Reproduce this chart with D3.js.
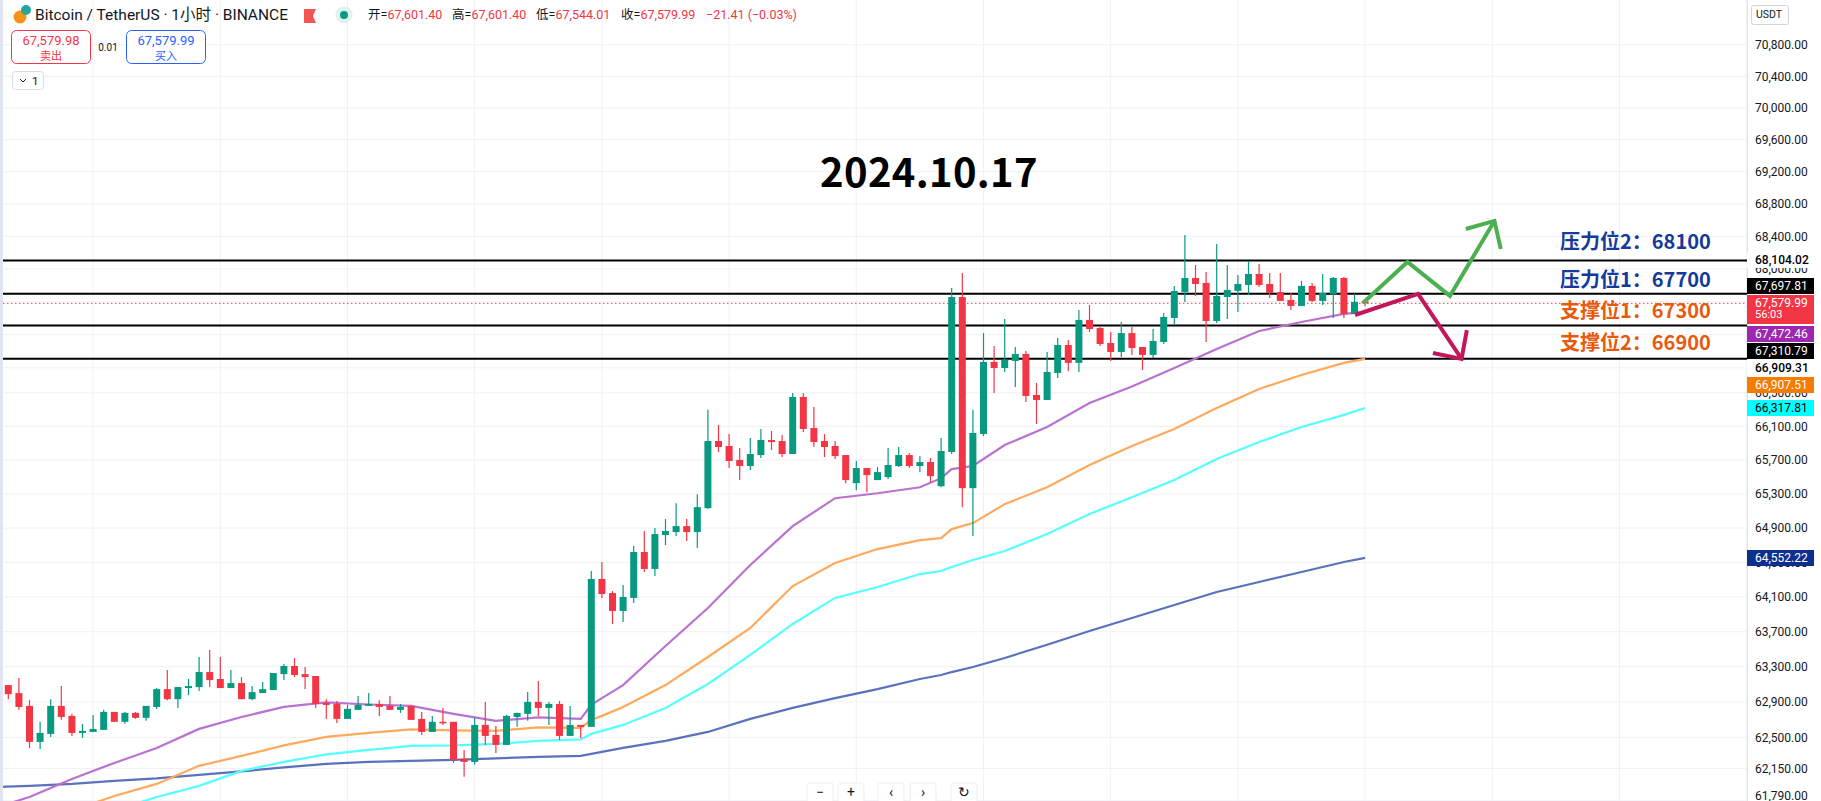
<!DOCTYPE html>
<html>
<head>
<meta charset="utf-8">
<title>BTCUSDT</title>
<script src="https://d3js.org/d3.v7.min.js"></script>
<style>
  html, body { margin: 0; padding: 0; background: #fff; overflow: hidden; }
  svg { display: block; }
  text { font-family: Roboto, 'Noto Sans CJK SC', sans-serif; }
  .cjk { font-family: 'Noto Sans CJK SC', sans-serif; }
  .axis path, .axis line { display: none; }
  .axis text { font-size: 12px; fill: #131722; }
</style>
</head>
<body>
<svg id="chart" width="1821" height="801"></svg>
<script>
// one hour candles, oldest first
var barOpen = [63091,63000,62855,62449,62539,62855,62742,62550,62561,62584,62787,62675,62776,62720,62843,63045,62931,63057,63068,63239,63160,63057,63114,62931,63000,63034,63216,63308,63216,63194,62888,62877,62708,62810,62855,62877,62855,62810,62855,62708,62561,62675,62675,62258,62224,62640,62527,62415,62730,62765,62900,62832,62877,62516,62640,62618,64308,64145,63939,64089,64621,64424,64818,64853,64923,64853,65133,65925,65866,65700,65629,65759,65937,65925,65771,66450,66080,65925,65866,65759,65427,65605,65463,65498,65629,65759,65629,65676,65391,65795,67657,65368,66009,66871,66798,66883,66967,66474,66414,66738,67075,66859,67378,67280,67099,66991,67219,67051,66955,67111,67402,67718,67889,67828,67365,67657,67731,67804,67938,67816,67718,67621,67548,67792,67609,67694,67889,67451,67601.4];
var barHigh = [63091,63171,62920,62675,62931,63080,62765,62652,62753,62810,62787,62787,62787,62855,63057,63262,63068,63160,63411,63491,63411,63262,63182,63080,63125,63228,63331,63400,63297,63194,62931,62910,62866,62966,63000,62920,62966,62877,62855,62787,62742,62832,62675,62359,62720,62900,62629,62753,62776,63011,63137,62900,62910,62855,62640,64400,64505,64168,64238,64691,64865,64900,65005,65190,65005,65296,66296,66116,66009,65843,65961,66068,66044,65997,66498,66498,66331,66009,65925,65759,65688,65605,65617,65843,65854,65783,65747,65724,65961,67767,67950,66296,67219,67063,67390,67051,67003,66618,66991,67159,67135,67499,67560,67292,67232,67353,67292,67051,67268,67463,67792,68417,68048,67962,68307,68048,67925,68097,68060,67950,67950,67706,67853,67828,67938,67901,67901,67694,67601.4];
var barLow = [62931,62810,62381,62370,62505,62697,62516,62494,62561,62584,62675,62652,62708,62686,62821,62920,62832,62977,63023,63068,63057,63057,62931,62920,63000,63034,63148,63182,63045,62832,62708,62663,62708,62810,62855,62742,62810,62776,62697,62527,62561,62640,62213,62057,62191,62415,62325,62415,62618,62686,62742,62640,62471,62516,62494,62618,64089,63789,63812,64031,64389,64342,64702,64806,64748,64667,65122,65795,65605,65463,65581,65724,65819,65735,65771,66032,65854,65735,65712,65427,65344,65320,65463,65475,65617,65605,65557,65439,65379,65771,65145,64806,65985,66498,66750,66570,66390,66128,66414,66678,66762,66750,67232,67063,66883,66931,66955,66774,66919,67087,67317,67597,67670,67111,67341,67390,67475,67682,67780,67645,67609,67499,67548,67597,67560,67402,67402,67451,67544.01];
var barClose = [62988,62843,62449,62550,62855,62730,62550,62573,62595,62787,62675,62776,62720,62855,63045,62931,63068,63080,63239,63148,63057,63114,62931,63011,63045,63228,63308,63205,63182,62877,62866,62708,62821,62866,62877,62843,62810,62843,62697,62561,62675,62663,62247,62224,62640,62516,62415,62742,62776,62900,62832,62877,62516,62640,62618,64308,64134,63939,64100,64621,64424,64830,64865,64923,64853,65145,65925,65854,65688,65629,65771,65937,65913,65771,66450,66068,65913,65854,65747,65463,65605,65522,65557,65641,65759,65629,65676,65510,65807,67657,65368,66021,66871,66798,66895,66967,66462,66414,66750,67075,66859,67378,67268,67087,66991,67219,67039,66955,67123,67414,67730,67889,67816,67365,67670,67743,67816,67938,67804,67706,67609,67548,67792,67609,67706,67889,67451,67597,67579.99];

// moving averages, read at these bar numbers
var maBars = [-1,2,6,10,14,18,22,26,30,34,38,42,46,50,54,55,56,58,62,66,70,74,78,82,86,88,89,91,94,98,102,106,110,114,118,122,126,128];
var maPurple = [61720,61833,62034,62213,62381,62595,62730,62843,62895,62871,62855,62765,62686,62725,62708,62866,62943,63091,63537,63973,64470,64923,65250,65308,65379,65486,65593,65629,65878,66092,66378,66576,66798,67027,67244,67353,67451,67472];
var maOrange = [null,null,61680,61844,61978,62180,62292,62409,62505,62550,62590,62578,62573,62612,62606,62697,62742,62843,63091,63411,63743,64226,64493,64655,64760,64783,64888,64958,65180,65379,65641,65866,66068,66319,66546,66714,66859,66907];
var maCyan = [null,null,null,61680,61833,61956,62124,62224,62309,62359,62404,62409,62426,62460,62477,62539,62573,62640,62832,63103,63434,63789,64089,64215,64365,64400,64447,64528,64632,64830,65064,65262,65463,65712,65913,66092,66236,66318];
var maBlue = [61945,61956,61978,62012,62040,62079,62118,62163,62202,62224,62236,62247,62264,62280,62292,62314,62337,62381,62460,62561,62708,62832,62943,63045,63160,63205,63239,63297,63400,63550,63709,63858,64008,64157,64273,64389,64505,64552];

var priceTicks = [70800,70400,70000,69600,69200,68800,68400,68000,67600,67200,66800,66500,66100,65700,65300,64900,64500,64100,63700,63300,62900,62500,62150,61790];
var gridBars = [8,20,32,44,56,68,80,92,104,116,128,140,152,164];
var levels = [68104.02,67697.81,67310.79,66909.31];
var lastPrice = 67579.99;

// hand drawn scenario arrows
var upBars = [127.8,132,136,140.2];
var upPrices = [67584,68085,67670,68590];
var upHeadBars = [137.5,140.2,140.8];
var upHeadPrices = [68490,68590,68245];
var downBars = [127.05,133,137.1];
var downPrices = [67438,67694,66907];
var downHeadBars = [134.4,137.1,137.6];
var downHeadPrices = [66979,66907,67256];

var noteText = ['压力位2：68100','压力位1：67700','支撑位1：67300','支撑位2：66900'];
var noteColor = ['#153a9b','#153a9b','#e8590c','#e8590c'];
var noteY = [242,280,311,343];

var tagText = ['68,104.02','67,697.81','67,579.99','67,472.46','67,310.79','66,909.31','66,907.51','66,317.81','64,552.22'];
var tagY = [260,286,303,334,351,368,385,408,558];
var tagFill = ['#fff','#000','#f23645','#9c27b0','#000','#fff','#f57c00','#00ffff','#0d2f8f'];
var tagInk = ['#000','#fff','#fff','#fff','#fff','#000','#fff','#000','#fff'];

var chartRight = 1747;

var svg = d3.select('#chart');
var x = d3.scaleLinear().domain([0, 128]).range([8.3, 1365.1]);
var y = d3.scaleLog().domain([70800, 61790]).range([44.8, 800.8]);

var plot = svg.append('g');

// grid
plot.selectAll('.vgrid').data(gridBars).enter().append('line')
  .attr('x1', function (d) { return x(d); })
  .attr('x2', function (d) { return x(d); })
  .attr('y1', 0).attr('y2', 801)
  .attr('stroke', '#f0f1f4').attr('stroke-width', 1);

plot.selectAll('.hgrid').data(priceTicks).enter().append('line')
  .attr('x1', 3).attr('x2', chartRight)
  .attr('y1', function (d) { return y(d); })
  .attr('y2', function (d) { return y(d); })
  .attr('stroke', '#f0f1f4').attr('stroke-width', 1);

// left edge strip
svg.append('rect').attr('width', 3).attr('height', 801).attr('fill', '#e0e3f0');

// support and resistance
plot.selectAll('.level').data(levels).enter().append('line')
  .attr('x1', 3).attr('x2', chartRight)
  .attr('y1', function (d) { return y(d); })
  .attr('y2', function (d) { return y(d); })
  .attr('stroke', '#000').attr('stroke-width', 2);

plot.append('line')
  .attr('x1', 3).attr('x2', chartRight)
  .attr('y1', y(lastPrice)).attr('y2', y(lastPrice))
  .attr('stroke', '#f23645').attr('stroke-width', 1)
  .attr('stroke-dasharray', '1.5,2.5');

// moving averages
var maLine = d3.line()
  .defined(function (d) { return d.value !== null; })
  .x(function (d) { return x(d.bar); })
  .y(function (d) { return y(d.value); });

var drawMa = function (values, color) {
  var points = values.map(function (v, i) {
    return {bar: maBars[i], value: v};
  });
  plot.append('path')
    .attr('d', maLine(points))
    .attr('fill', 'none')
    .attr('stroke', color)
    .attr('stroke-width', 2.2);
};

drawMa(maBlue, '#5a72bd');
drawMa(maCyan, '#55ffff');
drawMa(maOrange, '#ffa95c');
drawMa(maPurple, '#ba72d0');

// candles
var bars = barOpen.map(function (o, i) {
  return {i: i, o: o, h: barHigh[i], l: barLow[i], c: barClose[i]};
});
var barColor = function (d) {
  return d.c >= d.o ? '#089981' : '#f23645';
};

var candle = plot.selectAll('.candle').data(bars).enter().append('g');
candle.append('line')
  .attr('x1', function (d) { return x(d.i); })
  .attr('x2', function (d) { return x(d.i); })
  .attr('y1', function (d) { return y(d.h); })
  .attr('y2', function (d) { return y(d.l); })
  .attr('stroke', barColor).attr('stroke-width', 1.2);
candle.append('rect')
  .attr('x', function (d) { return x(d.i) - 3.5; })
  .attr('width', 7)
  .attr('y', function (d) { return y(Math.max(d.o, d.c)); })
  .attr('height', function (d) { return Math.max(1.5, Math.abs(y(d.o) - y(d.c))); })
  .attr('fill', barColor);

// arrows
var arrowLine = function (barList, priceList, color) {
  var path = d3.line()
    .x(function (d) { return x(d); })
    .y(function (d, i) { return y(priceList[i]); });
  plot.append('path')
    .attr('d', path(barList))
    .attr('fill', 'none')
    .attr('stroke', color)
    .attr('stroke-width', 4)
    .attr('stroke-linejoin', 'miter');
};
arrowLine(upBars, upPrices, '#4caf50');
arrowLine(upHeadBars, upHeadPrices, '#4caf50');
arrowLine(downBars, downPrices, '#c2185b');
arrowLine(downHeadBars, downHeadPrices, '#c2185b');

// title
svg.append('text')
  .attr('class', 'cjk')
  .attr('x', 929).attr('y', 187)
  .attr('text-anchor', 'middle')
  .attr('font-size', 40).attr('font-weight', 700)
  .attr('letter-spacing', 0.3)
  .attr('fill', '#000')
  .text('2024.10.17');

// notes by the levels
noteText.forEach(function (t, i) {
  svg.append('text')
    .attr('class', 'cjk')
    .attr('x', 1560).attr('y', noteY[i] + 7)
    .attr('font-size', 20).attr('font-weight', 700)
    .attr('fill', noteColor[i])
    .text(t);
});

// price axis
svg.append('rect').attr('x', chartRight).attr('width', 74).attr('height', 801).attr('fill', '#fff');
svg.append('line')
  .attr('x1', chartRight + 0.5).attr('x2', chartRight + 0.5)
  .attr('y1', 0).attr('y2', 801)
  .attr('stroke', '#e0e3eb');

svg.append('g')
  .attr('class', 'axis')
  .attr('transform', 'translate(' + (chartRight + 8) + ',0)')
  .call(d3.axisRight(y).tickValues(priceTicks).tickSize(0).tickPadding(0).tickFormat(d3.format(',.2f')))
  .selectAll('text')
  .filter(function (d) { return d === 61790; })
  .attr('y', -5);

tagText.forEach(function (t, i) {
  var h = t === '67,579.99' ? 29 : 16;
  svg.append('rect')
    .attr('x', chartRight).attr('y', tagY[i] - 8)
    .attr('width', 67).attr('height', h)
    .attr('fill', tagFill[i]);
  svg.append('text')
    .attr('x', chartRight + 8).attr('y', tagY[i] + 4)
    .attr('font-size', 12)
    .attr('font-weight', tagFill[i] === '#fff' ? 500 : 400)
    .attr('fill', tagInk[i])
    .text(t);
});
svg.append('text')
  .attr('x', chartRight + 8).attr('y', 318)
  .attr('font-size', 11).attr('fill', '#fff')
  .text('56:03');

svg.append('rect')
  .attr('x', 1751.5).attr('y', 5.5)
  .attr('width', 37).attr('height', 19).attr('rx', 2)
  .attr('fill', '#fff').attr('stroke', '#d1d4dc');
svg.append('text')
  .attr('x', 1756).attr('y', 18)
  .attr('font-size', 10.5).attr('fill', '#131722')
  .text('USDT');

// header
svg.append('circle').attr('cx', 20).attr('cy', 17).attr('r', 6.5).attr('fill', '#f7931a');
svg.append('circle').attr('cx', 26).attr('cy', 10).attr('r', 5).attr('fill', '#26a69a');
svg.append('text').attr('x', 35).attr('y', 20)
  .attr('font-size', 15.5).attr('fill', '#131722')
  .text('Bitcoin / TetherUS · 1小时 · BINANCE');
svg.append('path').attr('d', 'M304 9h12l-3 7 3 7h-12z').attr('fill', '#f55555');
svg.append('circle').attr('cx', 344).attr('cy', 15).attr('r', 8.5).attr('fill', '#dff2ef');
svg.append('circle').attr('cx', 344).attr('cy', 15).attr('r', 4).attr('fill', '#089981');

var ohlc = [['开=', '67,601.40'], ['高=', '67,601.40'], ['低=', '67,544.01'], ['收=', '67,579.99']];
var ohlcX = [368, 452, 536, 621];
ohlc.forEach(function (d, i) {
  var t = svg.append('text').attr('x', ohlcX[i]).attr('y', 19).attr('font-size', 12.5);
  t.append('tspan').attr('fill', '#131722').text(d[0]);
  t.append('tspan').attr('fill', '#f23645').text(d[1]);
});
svg.append('text').attr('x', 706).attr('y', 19)
  .attr('font-size', 12.5).attr('fill', '#f23645')
  .text('−21.41 (−0.03%)');

// sell and buy boxes
var tradeBox = function (left, color, price, label) {
  svg.append('rect')
    .attr('x', left + 0.5).attr('y', 30.5)
    .attr('width', 79).attr('height', 33).attr('rx', 5)
    .attr('fill', '#fff').attr('stroke', color);
  svg.append('text')
    .attr('x', left + 40).attr('y', 45)
    .attr('text-anchor', 'middle')
    .attr('font-size', 13).attr('fill', color)
    .text(price);
  svg.append('text')
    .attr('x', left + 40).attr('y', 60)
    .attr('text-anchor', 'middle')
    .attr('font-size', 11).attr('fill', color)
    .text(label);
};
tradeBox(11, '#f23645', '67,579.98', '卖出');
tradeBox(126, '#2962ff', '67,579.99', '买入');
svg.append('text').attr('x', 108).attr('y', 51)
  .attr('text-anchor', 'middle')
  .attr('font-size', 10).attr('fill', '#131722')
  .text('0.01');

svg.append('rect')
  .attr('x', 12.5).attr('y', 71.5)
  .attr('width', 31).attr('height', 18).attr('rx', 3)
  .attr('fill', '#fff').attr('stroke', '#d9dbe2');
svg.append('path').attr('d', 'M20 79l3 3 3-3').attr('fill', 'none').attr('stroke', '#131722');
svg.append('text').attr('x', 32).attr('y', 85)
  .attr('font-size', 11.5).attr('fill', '#131722')
  .text('1');

// zoom toolbar
var toolX = [820, 851, 891, 923, 964];
var toolLabel = ['−', '+', '‹', '›', '↻'];
toolX.forEach(function (tx, i) {
  svg.append('rect')
    .attr('x', tx - 13).attr('y', 783)
    .attr('width', 26).attr('height', 24).attr('rx', 3)
    .attr('fill', '#fff').attr('stroke', '#eceef2');
  svg.append('text')
    .attr('x', tx).attr('y', 797)
    .attr('text-anchor', 'middle')
    .attr('font-size', 14).attr('fill', '#131722')
    .text(toolLabel[i]);
});
</script>
</body>
</html>
